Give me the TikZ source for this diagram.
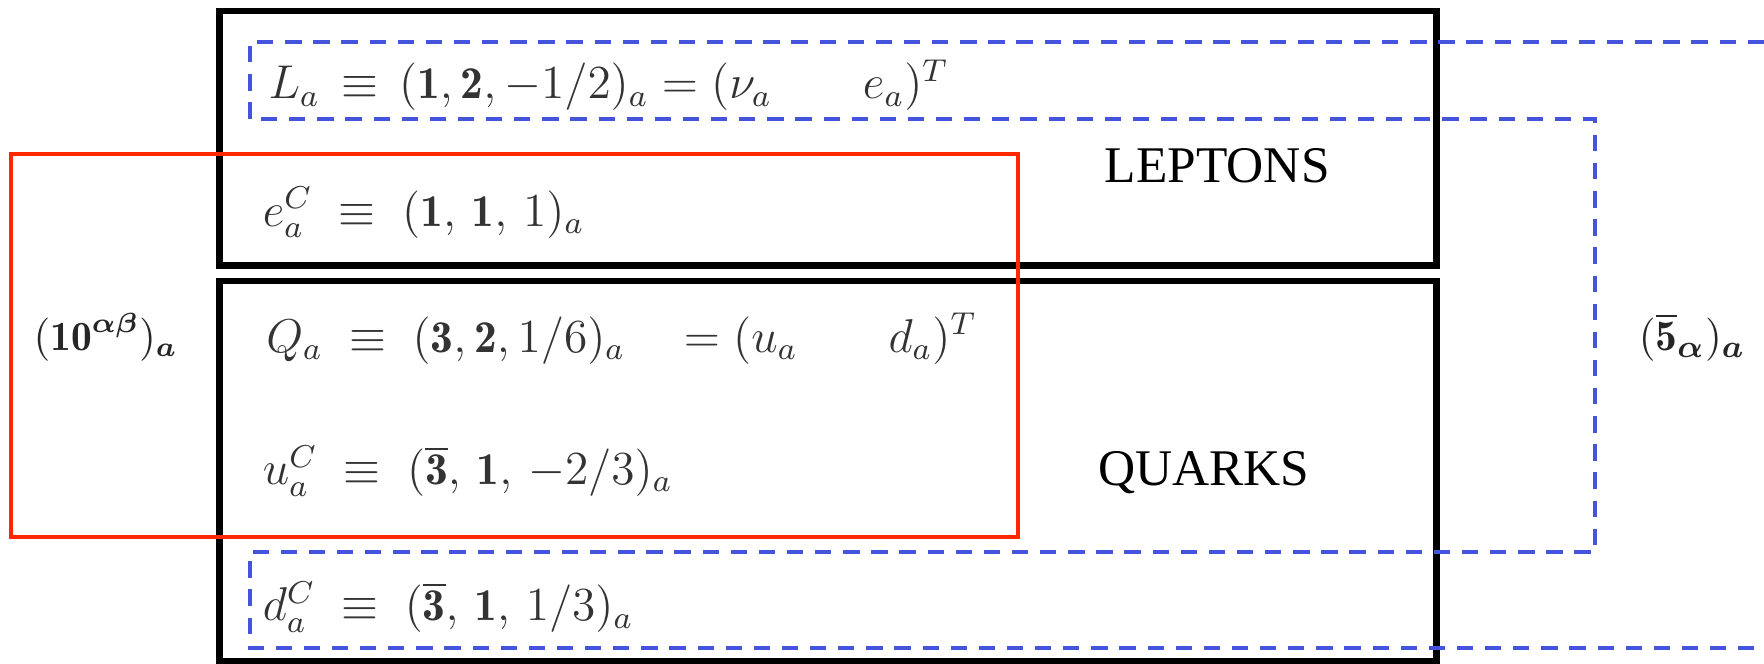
\documentclass[tikz,border=0pt]{standalone}
\usepackage{amsmath}
\usepackage{amssymb}
\usepackage{bm}
\usepackage{fontspec}
\newfontfamily\labelfont{Liberation Serif}
\usepackage{tikz}
\usetikzlibrary{positioning}
\definecolor{tenred}{RGB}{255,40,0}
\definecolor{fiveblue}{RGB}{68,84,220}
\tikzstyle{formula} = [anchor=base west, inner sep=0pt, text=black!80, font=\fontsize{11.5}{14}\selectfont]
\tikzstyle{sector} = [anchor=center, inner sep=0pt, font=\labelfont\fontsize{13}{15}\selectfont]
\tikzstyle{multiplet} = [anchor=center, inner sep=0pt, text=black!85, font=\fontsize{11}{13}\selectfont]
\tikzstyle{family} = [draw=black, line width=1.6pt]
\tikzstyle{tenplet} = [draw=tenred, line width=1pt]
\tikzstyle{fiveplet} = [draw=fiveblue, line width=1pt, dash pattern=on 0.145cm off 0.105cm]

\begin{document}
\begin{tikzpicture}
        \useasboundingbox (0,0) rectangle (15.68,5.90);

        % boxes
        \draw [family] (1.95,5.80) rectangle (12.77,3.54);
        \draw [family] (1.95,3.40) rectangle (12.77,0.02);
        \draw [tenplet] (0.10,4.53) rectangle (9.05,1.13);
        \draw [fiveplet] (15.68,5.53) -- (2.22,5.53) -- (2.22,4.84) -- (14.18,4.84) -- (14.18,0.99) -- (2.22,0.99) -- (2.22,0.14) -- (15.68,0.14);

        % fields
        \node (lepton) [formula] at (2.38,5.02) {$L_a \,\equiv\, (\mathbf{1},\mathbf{2},-1/2)_a = (\nu_a \qquad e_a)^T$};
        \node (positron) [formula] at (2.33,3.89) {$e^C_a \;\equiv\; (\mathbf{1},\,\mathbf{1},\,1)_a$};
        \node (quark) [formula] at (2.36,2.77) {$Q_a \;\equiv\; (\mathbf{3},\mathbf{2},1/6)_a \quad = (u_a \qquad d_a)^T$};
        \node (upbar) [formula] at (2.33,1.59) {$u^C_a \;\equiv\; (\overline{\mathbf{3}},\,\mathbf{1},\,-2/3)_a$};
        \node (downbar) [formula] at (2.33,0.38) {$d^C_a \;\equiv\; (\overline{\mathbf{3}},\,\mathbf{1},\,1/3)_a$};

        % sectors and multiplets
        \node (leptons) [sector] at (10.82,4.43) {LEPTONS};
        \node (quarks) [sector] at (10.70,1.70) {QUARKS};
        \node (ten) [multiplet, font=\fontsize{10.5}{13}\selectfont] at (0.94,2.90) {$(\mathbf{10}^{\boldsymbol{\alpha\beta}})_{\boldsymbol{a}}$};
        \node (five) [multiplet] at (15.04,2.90) {$(\overline{\mathbf{5}}_{\boldsymbol{\alpha}})_{\boldsymbol{a}}$};
\end{tikzpicture}
\end{document}
